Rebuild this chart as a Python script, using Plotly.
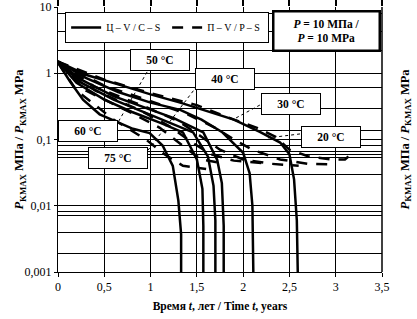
import plotly.graph_objects as go

# ---- data ----
temps = ["20", "30", "40", "50", "60", "75"]

# Ц – V / C – S (solid)
t_c20 = [0, 0.3, 0.65, 1.0, 1.32, 1.67, 1.9, 2.18, 2.4, 2.5, 2.55, 2.58, 2.59]
p_c20 = [1.5, 0.95, 0.68, 0.48, 0.36, 0.25, 0.2, 0.13, 0.09, 0.06, 0.025, 0.006, 0.001]
t_c30 = [0, 0.3, 0.65, 1.0, 1.32, 1.55, 1.77, 2.0, 2.07, 2.1, 2.11]
p_c30 = [1.5, 0.85, 0.52, 0.36, 0.28, 0.2, 0.13, 0.063, 0.031, 0.01, 0.001]
t_c40 = [0, 0.25, 0.6, 0.95, 1.25, 1.57, 1.72, 1.77, 1.79, 1.79]
p_c40 = [1.5, 0.8, 0.45, 0.3, 0.21, 0.128, 0.049, 0.022, 0.005, 0.001]
t_c50 = [0, 0.25, 0.6, 0.95, 1.2, 1.46, 1.62, 1.68, 1.7, 1.7]
p_c50 = [1.5, 0.72, 0.4, 0.25, 0.18, 0.128, 0.055, 0.02, 0.006, 0.001]
t_c60 = [0, 0.2, 0.5, 0.8, 1.1, 1.35, 1.5, 1.56, 1.57, 1.57]
p_c60 = [1.5, 0.72, 0.4, 0.26, 0.18, 0.128, 0.05, 0.018, 0.005, 0.001]
t_c75 = [0, 0.13, 0.27, 0.45, 0.81, 0.99, 1.13, 1.24, 1.3, 1.33, 1.33]
p_c75 = [1.45, 0.75, 0.4, 0.24, 0.145, 0.125, 0.081, 0.04, 0.012, 0.0037, 0.001]

# П – V / P – S (dashed)
t_p20 = [0, 0.5, 1.0, 1.5, 1.9, 2.15, 2.35, 2.5, 2.7, 2.95, 3.1, 3.18]
p_p20 = [1.5, 0.8, 0.5, 0.33, 0.2, 0.15, 0.11, 0.07, 0.056, 0.05, 0.05, 0.062]
t_p30 = [0, 0.5, 1.0, 1.4, 1.7, 1.9, 2.1, 2.4, 2.7, 3.0]
p_p30 = [1.5, 0.65, 0.38, 0.24, 0.15, 0.1, 0.07, 0.05, 0.043, 0.042]
t_p40 = [0, 0.4, 0.9, 1.3, 1.55, 1.75, 2.0, 2.3, 2.6]
p_p40 = [1.5, 0.62, 0.33, 0.19, 0.11, 0.07, 0.05, 0.043, 0.04]
t_p50 = [0, 0.4, 0.9, 1.2, 1.45, 1.65, 1.9, 2.2]
p_p50 = [1.5, 0.55, 0.27, 0.16, 0.09, 0.06, 0.048, 0.044]
t_p60 = [0, 0.3, 0.8, 1.1, 1.35, 1.55, 1.8]
p_p60 = [1.5, 0.55, 0.25, 0.15, 0.08, 0.05, 0.043]
t_p75 = [0, 0.2, 0.6, 0.95, 1.15, 1.35, 1.6]
p_p75 = [1.45, 0.55, 0.2, 0.1, 0.06, 0.04, 0.036]

x_tickvals = [0, 0.5, 1, 1.5, 2, 2.5, 3, 3.5]
x_ticktext = ["0", "0,5", "1", "1,5", "2", "2,5", "3", "3,5"]
y_tickvals = [0.001, 0.01, 0.1, 1, 10]
y_ticktext = ["0,001", "0,01", "0,1", "1", "10"]
y_minor_grid = [8.1, 4.2, 2.2, 0.6, 0.29, 0.135, 0.081, 0.066, 0.06, 0.053,
                0.03, 0.0081, 0.0072, 0.0039, 0.0019]

legend_solid = "Ц – V / C – S"
legend_dash = "П – V / P – S"

FONT = "Liberation Serif"

solid = [(t_c20, p_c20), (t_c30, p_c30), (t_c40, p_c40),
         (t_c50, p_c50), (t_c60, p_c60), (t_c75, p_c75)]
dashed = [(t_p20, p_p20), (t_p30, p_p30), (t_p40, p_p40),
          (t_p50, p_p50), (t_p60, p_p60), (t_p75, p_p75)]

fig = go.Figure()
for i, (t, p) in enumerate(dashed):
    fig.add_trace(go.Scatter(x=t, y=p, mode="lines", name=legend_dash,
                             legendgroup="p", showlegend=(i == 0), legendrank=2,
                             line=dict(color="black", width=2.5, dash="11px,9px")))
for i, (t, p) in enumerate(solid):
    fig.add_trace(go.Scatter(x=t, y=p, mode="lines", name=legend_solid,
                             legendgroup="c", showlegend=(i == 0), legendrank=1,
                             line=dict(color="black", width=2.5)))

# invisible trace for top ticks
fig.add_trace(go.Scatter(x=[0, 3.5], y=[1, 1], xaxis="x2", mode="lines",
                         line=dict(width=0), showlegend=False, hoverinfo="skip"))

fig.update_layout(
    template="none",
    width=417, height=319,
    margin=dict(l=58, r=35, t=7, b=47),
    plot_bgcolor="white", paper_bgcolor="white",
    font=dict(family=FONT, color="black", size=12),
    xaxis=dict(range=[0, 3.5], tickvals=x_tickvals, ticktext=x_ticktext,
               automargin=False,
               showgrid=True, gridcolor="black", gridwidth=1,
               showline=True, linecolor="black", linewidth=1,
               ticks="outside", ticklen=4, tickcolor="black",
               zeroline=False, tickfont=dict(size=12, family=FONT),
               title=dict(text="<b>Время <i>t</i>, лет / Time <i>t</i>, years</b>",
                          font=dict(size=11.5, family=FONT), standoff=8)),
    xaxis2=dict(range=[0, 3.5], overlaying="x", side="top", tickvals=x_tickvals,
                automargin=False,
                showticklabels=False, ticks="outside", ticklen=7, tickcolor="black",
                tickwidth=1.5, showgrid=False, showline=False, zeroline=False),
    yaxis=dict(type="log", range=[-3, 1], tickvals=y_tickvals, ticktext=y_ticktext,
               automargin=False,
               showgrid=True, gridcolor="black", gridwidth=1,
               showline=True, linecolor="black", linewidth=1,
               ticks="outside", ticklen=3, tickcolor="black",
               zeroline=False, tickfont=dict(size=12, family=FONT),
               minor=dict(tickmode="array", tickvals=y_minor_grid, showgrid=True,
                          gridcolor="black", gridwidth=1, ticks=""),
               title=dict(text="<b><i>P</i><sub>KMAX</sub> МПа / <i>P</i><sub>KMAX</sub> MPa</b>",
                          font=dict(size=12.5, family=FONT))),
    legend=dict(orientation="h", x=0.022, y=0.981, xanchor="left", yanchor="top",
                bgcolor="white", bordercolor="black", borderwidth=1,
                font=dict(size=10, family=FONT), traceorder="normal",
                itemwidth=30, entrywidth=56, tracegroupgap=0),
    showlegend=True,
)

# right border line
fig.add_shape(type="line", xref="paper", yref="paper", x0=1, x1=1, y0=0, y1=1,
              line=dict(color="black", width=1.5))

# leader lines (dotted)
leaders = [((0.275, 0.755), (0.182, 0.558)),
           ((0.429, 0.702), (0.278, 0.460)),
           ((0.623, 0.630), (0.549, 0.581)),
           ((0.747, 0.521), (0.648, 0.506))]
for (x0, y0), (x1, y1) in leaders:
    fig.add_shape(type="line", xref="paper", yref="paper", x0=x0, y0=y0, x1=x1, y1=y1,
                  line=dict(color="black", width=1, dash="dot"))

labels = [("50 °C", 0.315, 0.80), ("40 °C", 0.515, 0.728), ("30 °C", 0.72, 0.634),
          ("20 °C", 0.843, 0.509), ("60 °C", 0.093, 0.532), ("75 °C", 0.185, 0.430)]
for txt, x, y in labels:
    fig.add_annotation(text="<b>" + txt + "</b>", xref="paper", yref="paper", x=x, y=y,
                       xanchor="center", yanchor="middle",
                       showarrow=False, bgcolor="white", bordercolor="black",
                       borderwidth=1, width=56, height=18, borderpad=1,
                       font=dict(size=11.5, family=FONT))

fig.add_annotation(text="<b><i>P</i> = 10 МПа /<br><i>P</i> = 10 MPa</b>",
                   xref="paper", yref="paper", x=0.83, y=0.91, showarrow=False,
                   xanchor="center", yanchor="middle",
                   bgcolor="white", bordercolor="black", borderwidth=2.5,
                   width=102, height=35, borderpad=1, font=dict(size=11.5, family=FONT))

# right-side axis title
fig.add_annotation(text="<b><i>P</i><sub>KMAX</sub> МПа / <i>P</i><sub>KMAX</sub> MPa</b>",
                   xref="paper", yref="paper", x=1.071, y=0.5, textangle=-90,
                   xanchor="center", yanchor="middle",
                   showarrow=False, font=dict(size=12.5, family=FONT))

fig.write_html("out.html", post_script="document.body.style.margin='0';",
               config={"displayModeBar": False})
